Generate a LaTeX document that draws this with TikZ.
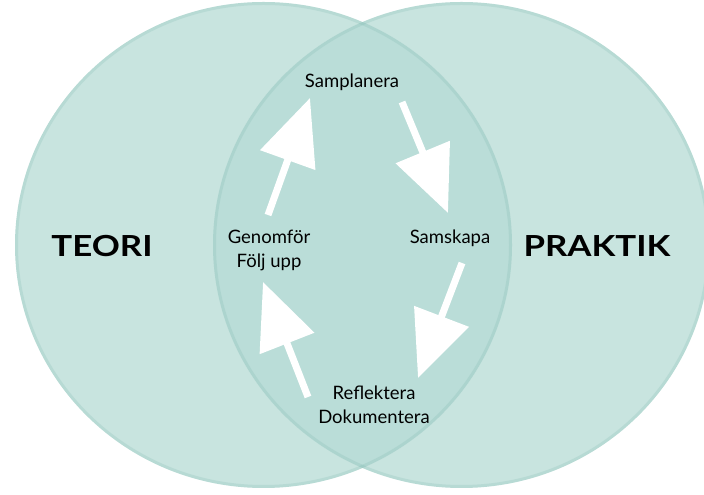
\documentclass[tikz,border=0pt]{standalone}
\usepackage{fontspec}
\setmainfont{Lato}
\usetikzlibrary{arrows.meta}
\definecolor{ringfill}{RGB}{200,228,223}
\definecolor{lensfill}{RGB}{186,221,216}
\definecolor{ringedge}{RGB}{110,175,165}

\begin{document}
\begin{tikzpicture}[
      x=1pt, y=1pt,
      steplabel/.style={font=\fontsize{18.5}{24}\selectfont, align=center, inner sep=0pt},
      sidelabel/.style={font=\fontsize{29}{32}\selectfont\bfseries, inner sep=0pt,
                        xscale=1.2, transform shape},
      cyclearrow/.style={draw=white, line width=7pt, -{Triangle[length=66pt,width=57pt]}},
      rim/.style={draw=ringedge, draw opacity=0.18, line width=3pt}
      ]
  \useasboundingbox (0,0) rectangle (704,495);

  % Circles
  \fill[ringfill] (263.5,250) ellipse [x radius=248.5, y radius=243];
  \fill[ringfill] (461.5,250) ellipse [x radius=248.5, y radius=243];
  \begin{scope}
    \clip (263.5,250) ellipse [x radius=248.5, y radius=243];
    \fill[lensfill] (461.5,250) ellipse [x radius=248.5, y radius=243];
  \end{scope}
  \draw[rim] (263.5,250) ellipse [x radius=247, y radius=241.5];
  \draw[rim] (461.5,250) ellipse [x radius=247, y radius=241.5];

  % Define nodes
  \node[sidelabel] (teori)   at (102,249) {TEORI};
  \node[sidelabel] (praktik) at (597,249) {PRAKTIK};
  \node[steplabel] (plan)    at (352,413) {Samplanera};
  \node[steplabel] (skapa)   at (450,257) {Samskapa};
  \node[steplabel] (refl)    at (374,90)  {Reflektera\\Dokumentera};
  \node[steplabel] (gen)     at (269,245) {Genomför\\Följ upp};

  % Connect the nodes
  \draw[cyclearrow] ([shift={(-1,35)}]gen.center)   -- ([shift={(-42,-16)}]plan.center);
  \draw[cyclearrow] ([shift={(50,-20)}]plan.center) -- ([shift={(-2,25)}]skapa.center);
  \draw[cyclearrow] ([shift={(12,-25)}]skapa.center) -- ([shift={(44,27)}]refl.center);
  \draw[cyclearrow] ([shift={(-66,8)}]refl.center)  -- ([shift={(-6,-32)}]gen.center);

\end{tikzpicture}
\end{document}
